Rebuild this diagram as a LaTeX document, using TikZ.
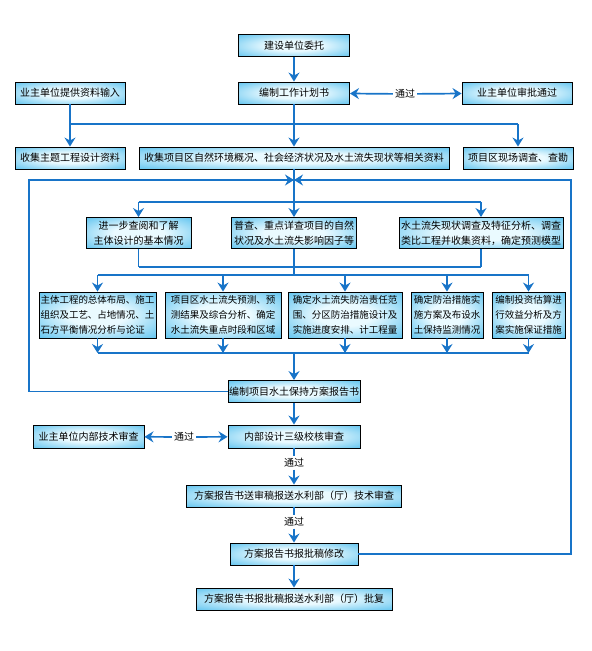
\documentclass[tikz,border=0pt]{standalone}
\usepackage{fontspec}
\setmainfont{Noto Sans CJK SC}
\usetikzlibrary{arrows.meta}

\definecolor{BoxBlue}{HTML}{10A4E6}
\definecolor{BoxLight}{HTML}{EAFAFF}
\definecolor{LineBlue}{HTML}{1874C8}
\pgfdeclareradialshading{boxglow}{\pgfpoint{0bp}{0bp}}{color(0bp)=(BoxLight); color(12bp)=(BoxLight); color(50bp)=(BoxBlue); color(72bp)=(BoxBlue)}

\tikzset{
    box/.style={draw=black, line width=0.9pt, shading=boxglow,
        minimum height=22pt, inner sep=0pt, align=center, font=\fontsize{10}{15}\selectfont},
    tallbox/.style={box, minimum height=31pt},
    stepbox/.style={box, minimum height=46pt, align=left, font=\fontsize{9.5}{15}\selectfont},
    link/.style={draw=LineBlue, line width=1.7pt},
    arr/.style={link, -{Stealth[length=9pt, width=11pt, inset=3pt]}},
    pass/.style={fill=white, inner sep=2pt, font=\fontsize{10}{12}\selectfont},
}

\begin{document}
\begin{tikzpicture}[x=1pt, y=-1pt]
    \useasboundingbox (0,0) rectangle (592,651);

    % top part
    \node[box, minimum width=111pt] (weituo) at (294,45.5) {建设单位委托};
    \node[box, minimum width=111pt] (jihua) at (294,93) {编制工作计划书};
    \node[box, minimum width=110pt] (tigong) at (70,93) {业主单位提供资料输入};
    \node[box, minimum width=110pt] (shenpi) at (517,93) {业主单位审批通过};
    \node[pass] (tg1) at (405,94) {通过};

    \node[box, minimum width=110pt] (zhuti) at (70,158) {收集主题工程设计资料};
    \node[box, minimum width=310pt] (ziran) at (294,158) {收集项目区自然环境概况、社会经济状况及水土流失现状等相关资料};
    \node[box, minimum width=110pt] (xianchang) at (518,158) {项目区现场调查、查勘};

    \node[tallbox, minimum width=105pt] (chayue) at (138.5,233) {进一步查阅和了解\\主体设计的基本情况};
    \node[tallbox, minimum width=125pt] (pucha) at (294,233) {普查、重点详查项目的自然\\状况及水土流失影响因子等};
    \node[tallbox, minimum width=164pt] (xianzhuang) at (481,233) {水土流失现状调查及特征分析、调查\\类比工程并收集资料，确定预测模型};

    \node[stepbox, minimum width=117pt] (buju) at (97.5,315) {主体工程的总体布局、施工\\组织及工艺、占地情况、土\\石方平衡情况分析与论证};
    \node[stepbox, minimum width=116pt] (yuce) at (223,315) {项目区水土流失预测、预\\测结果及综合分析、确定\\水土流失重点时段和区域};
    \node[stepbox, minimum width=114pt] (fanwei) at (345,315) {确定水土流失防治责任范\\围、分区防治措施设计及\\实施进度安排、计工程量};
    \node[stepbox, minimum width=72pt] (jiance) at (447,315) {确定防治措施实\\施方案及布设水\\土保持监测情况};
    \node[stepbox, minimum width=73pt] (baozheng) at (528.5,315) {编制投资估算进\\行效益分析及方\\案实施保证措施};

    % bottom part
    \node[box, minimum width=132pt] (baogao) at (294,391.5) {编制项目水土保持方案报告书};
    \node[box, minimum width=132pt, minimum height=23pt] (neibu) at (294,436.5) {内部设计三级校核审查};
    \node[box, minimum width=111pt, minimum height=23pt] (yezhu) at (88.5,436.5) {业主单位内部技术审查};
    \node[pass] (tg2) at (184,437) {通过};
    \node[pass] (tg3) at (294,463) {通过};
    \node[box, minimum width=215pt] (songshen) at (294,496) {方案报告书送审稿报送水利部（厅）技术审查};
    \node[pass] (tg4) at (294,522) {通过};
    \node[box, minimum width=128pt] (xiugai) at (294,554) {方案报告书报批稿修改};
    \node[box, minimum width=196pt] (pifu) at (294,599) {方案报告书报批稿报送水利部（厅）批复};

    \coordinate (fen1) at (294,124);
    \coordinate (hui) at (294,180);
    \coordinate (fen2) at (294,202);
    \coordinate (he2) at (294,267);
    \coordinate (fen3) at (294,275);
    \coordinate (he3) at (294,353);
    \coordinate (zuo) at (29,180);
    \coordinate (you) at (571,180);

    \draw[arr] (weituo) -- (jihua);
    \draw[arr] (tg1) -- (jihua);
    \draw[arr] (tg1) -- (shenpi);
    \draw[link] (tigong) -- (tigong |- fen1) -- (xianchang |- fen1);
    \draw[link] (jihua) -- (fen1);
    \draw[arr] (tigong |- fen1) -- (zhuti);
    \draw[arr] (fen1) -- (ziran);
    \draw[arr] (xianchang |- fen1) -- (xianchang);

    \draw[link] (ziran) -- (fen2);
    \draw[link] (chayue |- fen2) -- (xianzhuang |- fen2);
    \foreach \n in {chayue, pucha, xianzhuang}{
        \draw[arr] (\n |- fen2) -- (\n);
        \draw[link] (\n) -- (\n |- he2);
    }
    \draw[link] (chayue |- he2) -- (xianzhuang |- he2);
    \draw[link] (he2) -- (fen3);
    \draw[link] (buju |- fen3) -- (baozheng |- fen3);
    \foreach \n in {buju, yuce, fanwei, jiance, baozheng}{
        \draw[arr] (\n |- fen3) -- (\n);
        \draw[arr] (\n) -- (\n |- he3);
    }
    \draw[link] (buju |- he3) -- (baozheng |- he3);
    \draw[arr] (he3) -- (baogao);

    \draw[arr] (baogao) -- (neibu);
    \draw[arr] (tg2) -- (yezhu);
    \draw[arr] (tg2) -- (neibu);
    \draw[link] (neibu) -- (tg3);
    \draw[arr] (tg3) -- (songshen);
    \draw[link] (songshen) -- (tg4);
    \draw[arr] (tg4) -- (xiugai);
    \draw[arr] (xiugai) -- (pifu);

    % feedback loops
    \draw[arr] (baogao.west) -- (zuo |- baogao.west) -- (zuo) -- (hui);
    \draw[arr] (xiugai.east) -- (you |- xiugai.east) -- (you) -- (hui);
\end{tikzpicture}
\end{document}
